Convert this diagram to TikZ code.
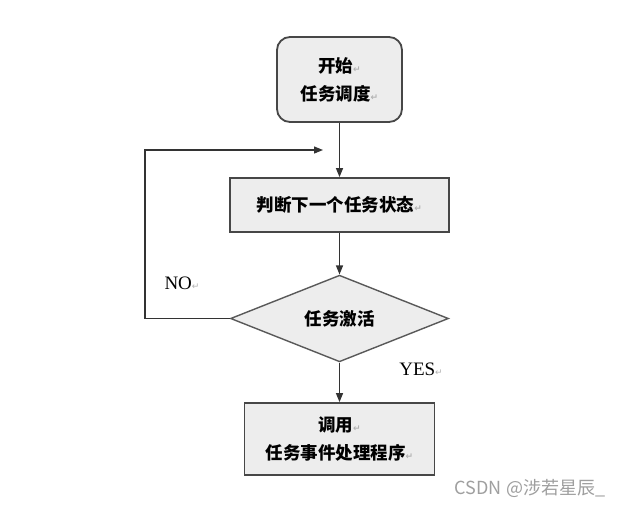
\documentclass[tikz,border=0pt]{standalone}
\usepackage{fontspec}
\usetikzlibrary{shapes.geometric,arrows.meta}
\setmainfont{Liberation Serif}
\newfontfamily\cjk{Noto Sans CJK SC}
\newfontfamily\symfont{DejaVu Sans}
\newcommand\retmark{{\symfont\color{gray!60}\fontsize{9}{9}\selectfont ↵}}
\begin{document}
\begin{tikzpicture}[x=1pt,y=-1pt,
  boxbase/.style={draw=black!72, line width=1.8pt, fill=gray!14, inner sep=0pt,
    align=center, font=\cjk\bfseries\fontsize{17.5}{28}\selectfont},
  startbox/.style={boxbase, rounded corners=13pt, minimum width=125pt, minimum height=85pt},
  procbox/.style={boxbase},
  decision/.style={boxbase, diamond, line width=1.4pt, draw=black!65},
  conn/.style={draw=black!80, line width=1.2pt},
  arrowconn/.style={conn, -{Triangle[length=9pt,width=7pt]}},
  lab/.style={font=\fontsize{19}{19}\selectfont, inner sep=0pt}
]
\useasboundingbox (0,0) rectangle (623,507);
\fill[white] (0,0) rectangle (623,507);

\node[startbox] (start) at (339.5,79.5) {开始\retmark\\任务调度\retmark};
\node[procbox, minimum width=219pt, minimum height=54pt] (judge) at (339.5,205) {判断下一个任务状态\retmark};
\node[decision, minimum width=218pt, minimum height=83pt] (act) at (339.5,318.5) {任务激活};
\node[procbox, minimum width=190pt, minimum height=72pt] (call) at (339.5,439) {调用\retmark\\任务事件处理程序\retmark};

\coordinate (loopcorner) at (145,150);
\coordinate (loopend) at (323,150);

\draw[arrowconn] (start.south) -- (judge.north);
\draw[arrowconn] (judge.south) -- (act.north);
\draw[arrowconn] (act.south) -- (call.north);
\draw[arrowconn] (act.west) -| (loopcorner) -- (loopend);

\node[lab] (no) at (182,283) {NO\retmark};
\node[lab] (yes) at (421,369) {YES\retmark};

\node[text=gray!75, font=\cjk\fontsize{18}{18}\selectfont, inner sep=0pt] (wm) at (530,488) {CSDN @涉若星辰\_};
\end{tikzpicture}
\end{document}
